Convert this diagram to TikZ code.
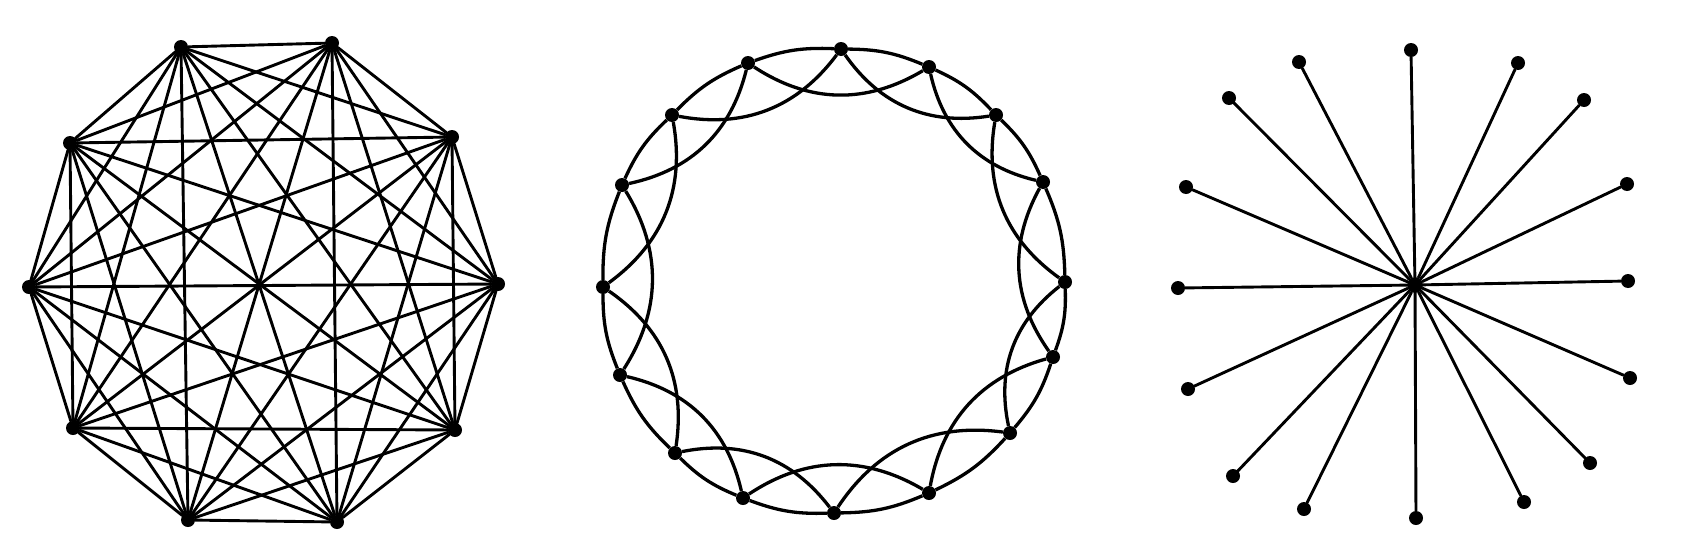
\documentclass[tikz,border=0pt]{standalone}
\tikzset{
  vertex/.style={circle, fill=black, inner sep=0pt, minimum size=14pt},
  hub/.style={vertex, minimum size=16pt},
  edge/.style={line width=2.9pt, line cap=round},
  ringedge/.style={line width=3.3pt},
}

\begin{document}
\begin{tikzpicture}[x=1pt, y=-1pt]
  \useasboundingbox (0,0) rectangle (1684,552);

  % complete graph on ten vertices
  \foreach \i/\x/\y in {1/181/47, 2/332/43, 3/452/137, 4/498/284, 5/455/430,
    6/337/522, 7/188/520, 8/73/428, 9/29/287, 10/70/143}
    \node[vertex] (k\i) at (\x,\y) {};
  \foreach \i in {1,...,9} {
    \pgfmathtruncatemacro\first{\i+1}
    \foreach \j in {\first,...,10}
      \draw[edge] (k\i) -- (k\j);
  }

  % ring lattice, neighbours at distance one and two
  \foreach \i/\x/\y in {1/841/49, 2/929/67, 3/996/115, 4/1043/182,
    5/1065/282, 6/1053/357, 7/1010/433, 8/929/493, 9/834/513, 10/743/498,
    11/675/453, 12/620/375, 13/603/287, 14/622/185, 15/672/115, 16/748/63}
    \node[vertex] (r\i) at (\x,\y) {};
  \foreach \i in {1,...,16} {
    \pgfmathtruncatemacro\near{mod(\i,16)+1}
    \pgfmathtruncatemacro\far{mod(\i+1,16)+1}
    \draw[ringedge] (r\i) to[bend left=11] (r\near);
    \draw[ringedge] (r\i) to[bend right=32] (r\far);
  }

  % star
  \node[hub] (s0) at (1415,285) {};
  \foreach \i/\x/\y in {1/1411/50, 2/1518/63, 3/1584/100, 4/1627/184,
    5/1628/281, 6/1630/378, 7/1590/463, 8/1524/502, 9/1416/518,
    10/1304/509, 11/1233/476, 12/1188/389, 13/1178/288, 14/1186/187,
    15/1229/98, 16/1299/62} {
    \node[vertex] (s\i) at (\x,\y) {};
    \draw[edge] (s0) -- (s\i);
  }
\end{tikzpicture}
\end{document}
